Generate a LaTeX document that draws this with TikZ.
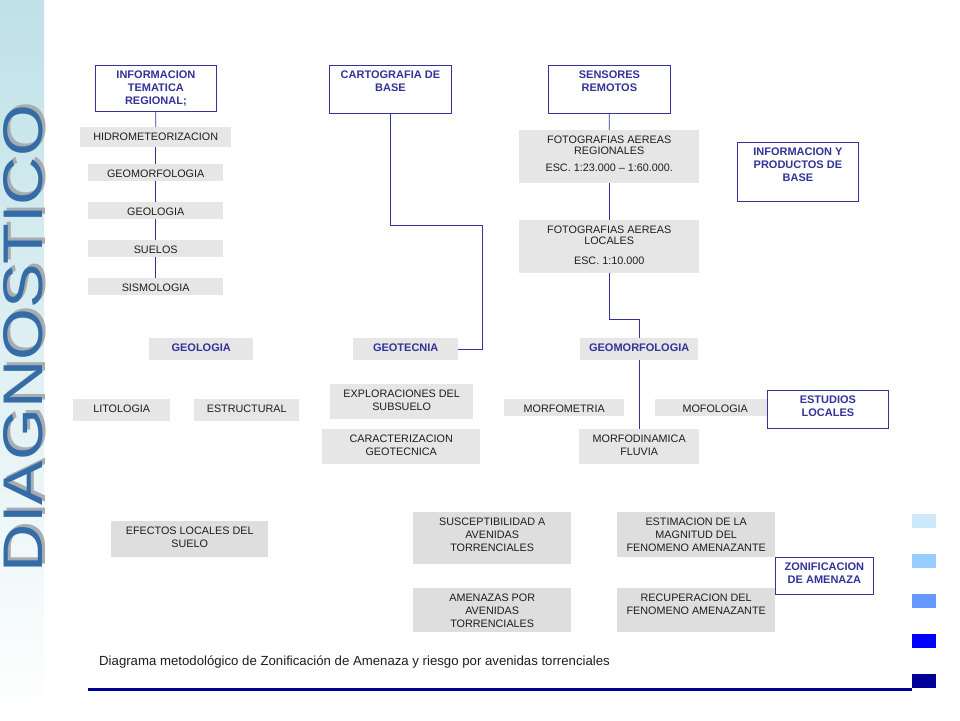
\documentclass[tikz,border=0pt]{standalone}
\usepackage{fontspec}
\setmainfont{Liberation Sans}
\usepackage{graphicx}
\definecolor{lineblue}{HTML}{333399}
\definecolor{boxgray}{HTML}{E6E6E6}
\definecolor{boxgraydark}{HTML}{DEDEDE}
\definecolor{textgray}{HTML}{1E1E1E}
\definecolor{bandteal}{HTML}{BFE1E7}
\definecolor{diagblue}{HTML}{336CA6}
\definecolor{shadowgray}{HTML}{A8ACB0}
\definecolor{legendone}{HTML}{CCE9FB}
\definecolor{legendtwo}{HTML}{99CCFF}
\definecolor{legendthree}{HTML}{6699FF}
\definecolor{legendfour}{HTML}{0000FF}
\definecolor{legendfive}{HTML}{000099}
\newcommand{\cell}[3]{\parbox[c][#2][t]{#1}{\centering\vspace*{5.5pt}#3\par}}

\begin{document}
\begin{tikzpicture}[x=1pt, y=-1pt,
    every node/.style={font=\fontsize{10.8}{13}\selectfont},
    gbox/.style={fill=boxgray, inner sep=0pt, anchor=north west, text=textgray},
    dbox/.style={gbox, fill=boxgraydark},
    headbox/.style={gbox, text=lineblue, font=\fontsize{11}{13}\selectfont\bfseries},
    tbox/.style={draw=lineblue, line width=0.8pt, fill=white, inner sep=0pt, anchor=north west,
        text=lineblue, font=\fontsize{11}{13}\selectfont\bfseries},
    link/.style={draw=lineblue, line width=0.8pt}]
    \useasboundingbox (0,0) rectangle (960,720);
    \fill [white] (0,0) rectangle (960,720);
    \shade [top color=bandteal, middle color=bandteal!55, bottom color=white] (0,0) rectangle (44,720);

    \node [rotate=90, inner sep=0pt, text=shadowgray] (diagshadow) at (26,335.5)
        {\resizebox{467pt}{39pt}{DIAGNOSTICO}};
    \node [rotate=90, inner sep=0pt, text=diagblue] (diag) at (23,338.5)
        {\resizebox{467pt}{39pt}{DIAGNOSTICO}};

    \node [tbox] (info) at (95,65) {\cell{121pt}{46pt}{INFORMACION\\TEMATICA\\REGIONAL;}};
    \node [tbox] (carto) at (329,65) {\cell{122pt}{48pt}{CARTOGRAFIA DE\\BASE}};
    \node [tbox] (sensores) at (548,65) {\cell{122pt}{48pt}{SENSORES\\REMOTOS}};
    \node [tbox] (infoprod) at (737,142) {\cell{121pt}{59pt}{INFORMACION Y\\PRODUCTOS DE\\BASE}};

    \node [gbox] (hidro) at (80,127) {\cell{151pt}{20pt}{HIDROMETEORIZACION}};
    \node [gbox] (geomorfreg) at (88,164) {\cell{135pt}{17pt}{GEOMORFOLOGIA}};
    \node [gbox] (geologiareg) at (88,202) {\cell{135pt}{17pt}{GEOLOGIA}};
    \node [gbox] (suelos) at (88,240) {\cell{135pt}{17pt}{SUELOS}};
    \node [gbox] (sismo) at (88,278) {\cell{135pt}{17pt}{SISMOLOGIA}};

    \node [gbox] (fotoreg) at (519,130)
        {\cell{180pt}{53pt}{FOTOGRAFIAS AEREAS\\[-1.3pt]REGIONALES\\[3.3pt]ESC. 1:23.000 -- 1:60.000.}};
    \node [gbox] (fotoloc) at (519,220)
        {\cell{180pt}{53pt}{FOTOGRAFIAS AEREAS\\[-1.3pt]LOCALES\\[7pt]ESC. 1:10.000}};

    \node [headbox] (geologia) at (149,338) {\cell{104pt}{22pt}{GEOLOGIA}};
    \node [headbox] (geotec) at (353,338) {\cell{105pt}{22pt}{GEOTECNIA}};
    \node [headbox] (geomorf) at (580,338) {\cell{118pt}{22pt}{GEOMORFOLOGIA}};

    \node [gbox] (lito) at (73,399) {\cell{97pt}{22pt}{LITOLOGIA}};
    \node [gbox] (estruc) at (194,399) {\cell{105pt}{22pt}{ESTRUCTURAL}};
    \node [gbox] (explor) at (330,384) {\cell{143pt}{35pt}{EXPLORACIONES DEL\\SUBSUELO}};
    \node [gbox] (caract) at (322,429) {\cell{158pt}{35pt}{CARACTERIZACION\\GEOTECNICA}};
    \node [gbox] (morfomet) at (504,399) {\cell{120pt}{17pt}{MORFOMETRIA}};
    \node [gbox] (mofolog) at (655,399) {\cell{120pt}{17pt}{MOFOLOGIA}};
    \node [gbox] (morfodin) at (579,429) {\cell{120pt}{35pt}{MORFODINAMICA\\FLUVIA}};
    \node [tbox] (estudios) at (767,390) {\cell{121pt}{38pt}{ESTUDIOS\\LOCALES}};

    \node [dbox] (efectos) at (111,521) {\cell{157pt}{36pt}{EFECTOS LOCALES DEL\\SUELO}};
    \node [dbox] (suscep) at (413,512) {\cell{158pt}{52pt}{SUSCEPTIBILIDAD A\\AVENIDAS\\TORRENCIALES}};
    \node [dbox] (amenaz) at (413,588) {\cell{158pt}{44pt}{AMENAZAS POR\\AVENIDAS\\TORRENCIALES}};
    \node [dbox] (estim) at (617,512) {\cell{158pt}{45pt}{ESTIMACION DE LA\\MAGNITUD DEL\\FENOMENO AMENAZANTE}};
    \node [dbox] (recup) at (617,588) {\cell{158pt}{44pt}{RECUPERACION DEL\\FENOMENO AMENAZANTE}};
    \node [tbox] (zonif) at (775,557) {\cell{98pt}{37pt}{ZONIFICACION\\DE AMENAZA}};

    \coordinate (cartoturn) at (482,225);
    \coordinate (fototurn) at (639,319);
    \draw [link] (info) -- (hidro);
    \draw [link] (hidro) -- (geomorfreg);
    \draw [link] (geomorfreg) -- (geologiareg);
    \draw [link] (geologiareg) -- (suelos);
    \draw [link] (suelos) -- (sismo);
    \draw [link] (carto.south) |- (cartoturn) |- (geotec.east);
    \draw [link] (sensores) -- (fotoreg);
    \draw [link] (fotoreg) -- (fotoloc);
    \draw [link] (fotoloc.south) |- (fototurn) -- (fototurn |- geomorf.north);
    \draw [link] (geomorf) -- (morfodin);

    \node [anchor=base west, inner sep=0pt, font=\fontsize{13.2}{15}\selectfont, text=textgray] (caption)
        at (99,665) {Diagrama metodológico de Zonificación de Amenaza y riesgo por avenidas torrenciales};
    \coordinate (ruleend) at (912,689);
    \draw [legendfive, line width=3pt] (88,689) -- (ruleend);

    \fill [legendone] (912,514) rectangle (936,528);
    \fill [legendtwo] (912,554) rectangle (936,568);
    \fill [legendthree] (912,594) rectangle (936,608);
    \fill [legendfour] (912,634) rectangle (936,648);
    \fill [legendfive] (912,674) rectangle (936,688);
\end{tikzpicture}
\end{document}
